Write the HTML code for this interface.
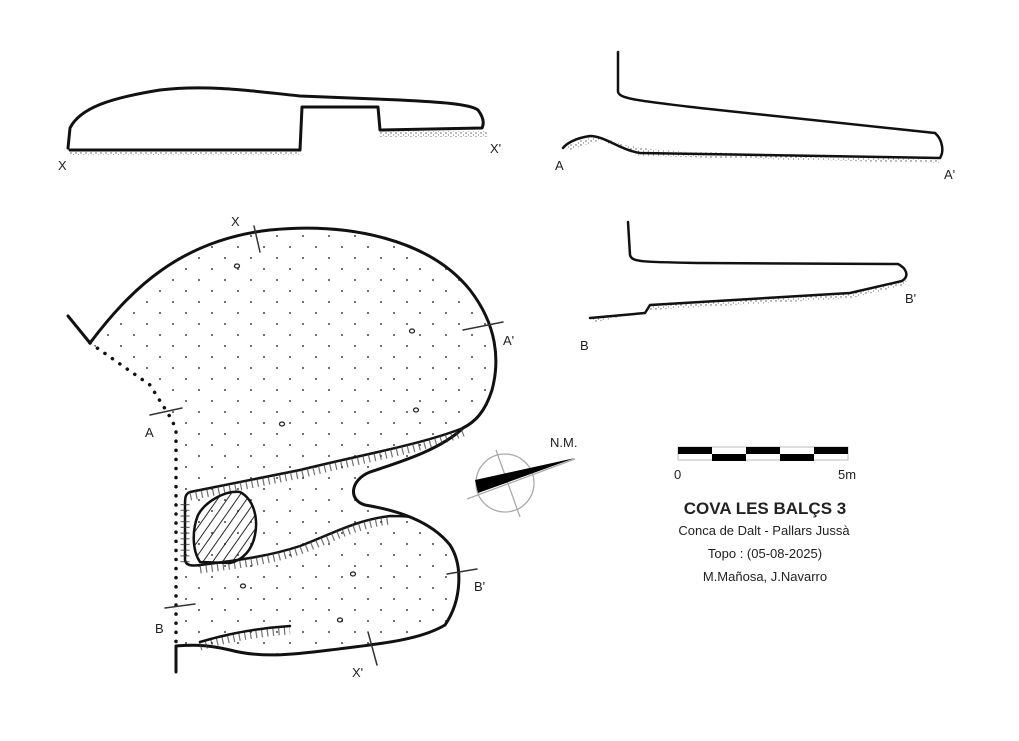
<!DOCTYPE html>
<html><head><style>body{margin:0;background:#fff}svg{display:block}text{font-family:"Liberation Sans",sans-serif;fill:#222}</style></head><body>
<svg width="1019" height="741" viewBox="0 0 1019 741" xmlns="http://www.w3.org/2000/svg">
<defs>
<pattern id="dots" width="26" height="22" patternUnits="userSpaceOnUse"><circle cx="4" cy="5" r="1" fill="#444"/><circle cx="17" cy="16" r="1" fill="#444"/></pattern>
<pattern id="stip" width="5" height="4" patternUnits="userSpaceOnUse"><circle cx="1" cy="1" r="0.7" fill="#555"/><circle cx="3.5" cy="3" r="0.6" fill="#777"/></pattern>
<pattern id="hatch" width="8" height="8" patternUnits="userSpaceOnUse" patternTransform="rotate(35)"><line x1="0" y1="0" x2="0" y2="8" stroke="#111" stroke-width="1.8"/></pattern>
</defs>
<g fill="none" stroke="#111" stroke-width="3" stroke-linejoin="round" stroke-linecap="round">
<rect x="70" y="150" width="230" height="5" fill="url(#stip)" stroke="none"/>
<rect x="380" y="131" width="108" height="6" fill="url(#stip)" stroke="none"/>
<path d="M68,148 L70,128 C80,108 110,98 160,90 C210,84 260,92 300,96 L400,100 C440,102 470,104 478,110 C484,118 484,124 482,128 L380,130 L378,107 L302,107 L300,150 L70,150"/>
<path d="M565,147 C580,140 595,135 605,138 C620,145 640,150 700,152 L940,160 L940,163 L640,156 L600,140 L570,150Z" fill="url(#stip)" stroke="none"/>
<path d="M618,52 L618,92 C620,98 630,100 700,108 L935,133 C943,140 944,152 940,158 L640,153 C620,150 605,136 590,136 C575,138 566,144 563,148" stroke-width="2.5"/>
<path d="M592,318 L645,314 L650,306 L850,294 L905,280 L908,284 L852,298 L650,310 L592,323Z" fill="url(#stip)" stroke="none"/>
<path d="M628,222 L630,255 C632,262 640,262 700,263 L898,264 C906,268 910,276 902,281 L850,293 L650,305 L645,313 L590,318" stroke-width="2.5"/>
<path d="M90,343 C130,290 180,240 270,230 C350,222 430,240 470,290 C497,325 500,360 492,390 C485,412 475,422 463,428 C440,450 400,462 370,472 C350,480 348,500 365,505 C395,510 430,520 450,545 C463,565 462,600 445,625 C420,640 380,644 330,650 C290,655 260,658 230,650 C205,644 190,645 176,646 L176,520 L176,420 L150,385 Z" fill="url(#dots)" stroke="none"/>
<path d="M68,316 L90,343 C130,290 180,240 270,230 C350,222 430,240 470,290 C497,325 500,360 492,390 C485,412 475,422 463,428 C440,450 400,462 370,472 C350,480 348,500 365,505 C395,510 430,520 450,545 C463,565 462,600 445,625 C420,640 380,644 330,650 C290,655 260,658 230,650 C205,644 190,645 176,646 L176,672"/>
<path d="M463,428 C420,445 360,455 300,470 C250,480 210,488 190,492 C185,494 185,498 185,505 L185,560 C186,566 192,566 200,565 C240,560 270,556 300,546 C330,535 355,520 390,516 C400,516 405,516 410,517" stroke-width="2.5"/>
<path d="M463,428 C420,445 360,455 300,470 C250,480 210,488 190,492 M185,500 L185,560 M200,565 C240,560 270,556 300,546 C330,535 355,520 390,516 M200,642 C230,633 260,628 290,626" stroke-width="9" stroke-dasharray="1.2 4.5" stroke-linecap="butt" stroke="#333" transform="translate(0,4)" opacity="0.7"/>
<path d="M200,642 C230,633 260,628 290,626" stroke-width="2.5"/>
<path d="M240,492 C255,500 258,520 255,535 C252,550 243,560 230,563 L200,562 C192,550 192,530 198,515 C205,502 225,490 240,492Z" fill="url(#hatch)" stroke-width="2.5"/>
<path d="M90,343 L150,385 L172,420 L176,430 L176,645" stroke-width="3.5" stroke-dasharray="0.1 9"/>
<g stroke="#333" stroke-width="1.5">
<line x1="254" y1="226" x2="260" y2="252"/><line x1="463" y1="330" x2="503" y2="322"/><line x1="150" y1="415" x2="182" y2="408"/><line x1="165" y1="608" x2="195" y2="604"/><line x1="447" y1="574" x2="477" y2="569"/><line x1="368" y1="632" x2="377" y2="665"/>
</g>
<g stroke="#222" stroke-width="1.3"><ellipse cx="237" cy="266" rx="2.5" ry="2"/><ellipse cx="412" cy="331" rx="2.5" ry="2"/><ellipse cx="416" cy="410" rx="2.5" ry="2"/><ellipse cx="282" cy="424" rx="2.5" ry="2"/><ellipse cx="243" cy="586" rx="2.5" ry="2"/><ellipse cx="353" cy="574" rx="2.5" ry="2"/><ellipse cx="340" cy="620" rx="2.5" ry="2"/></g>
</g>
<g stroke="#aaa" stroke-width="1.3" fill="none"><circle cx="505" cy="483" r="29"/><line x1="496" y1="450" x2="520" y2="517"/><line x1="467" y1="499" x2="575" y2="459"/></g>
<polygon points="475,480 575,458 478,493" fill="#000"/>
<rect x="678" y="447" width="170" height="13" fill="#fff" stroke="#bbb" stroke-width="1"/>
<g fill="#000"><rect x="678" y="447" width="34" height="7"/><rect x="746" y="447" width="34" height="7"/><rect x="814" y="447" width="34" height="7"/><rect x="712" y="454" width="34" height="7"/><rect x="780" y="454" width="34" height="7"/></g>
<g font-size="13"><text x="58" y="170">X</text><text x="490" y="153">X'</text><text x="555" y="170">A</text><text x="944" y="179">A'</text><text x="580" y="350">B</text><text x="905" y="303">B'</text><text x="231" y="226">X</text><text x="503" y="345">A'</text><text x="145" y="437">A</text><text x="155" y="633">B</text><text x="474" y="591">B'</text><text x="352" y="677">X'</text><text x="550" y="447">N.M.</text><text x="674" y="479">0</text><text x="838" y="479">5m</text></g>
<g text-anchor="middle"><text x="765" y="514" font-size="17" font-weight="bold" fill="#111">COVA LES BALÇS 3</text><text x="764" y="535" font-size="13">Conca de Dalt - Pallars Jussà</text><text x="765" y="558" font-size="13">Topo : (05-08-2025)</text><text x="765" y="581" font-size="13">M.Mañosa, J.Navarro</text></g>
</svg>
</body></html>
